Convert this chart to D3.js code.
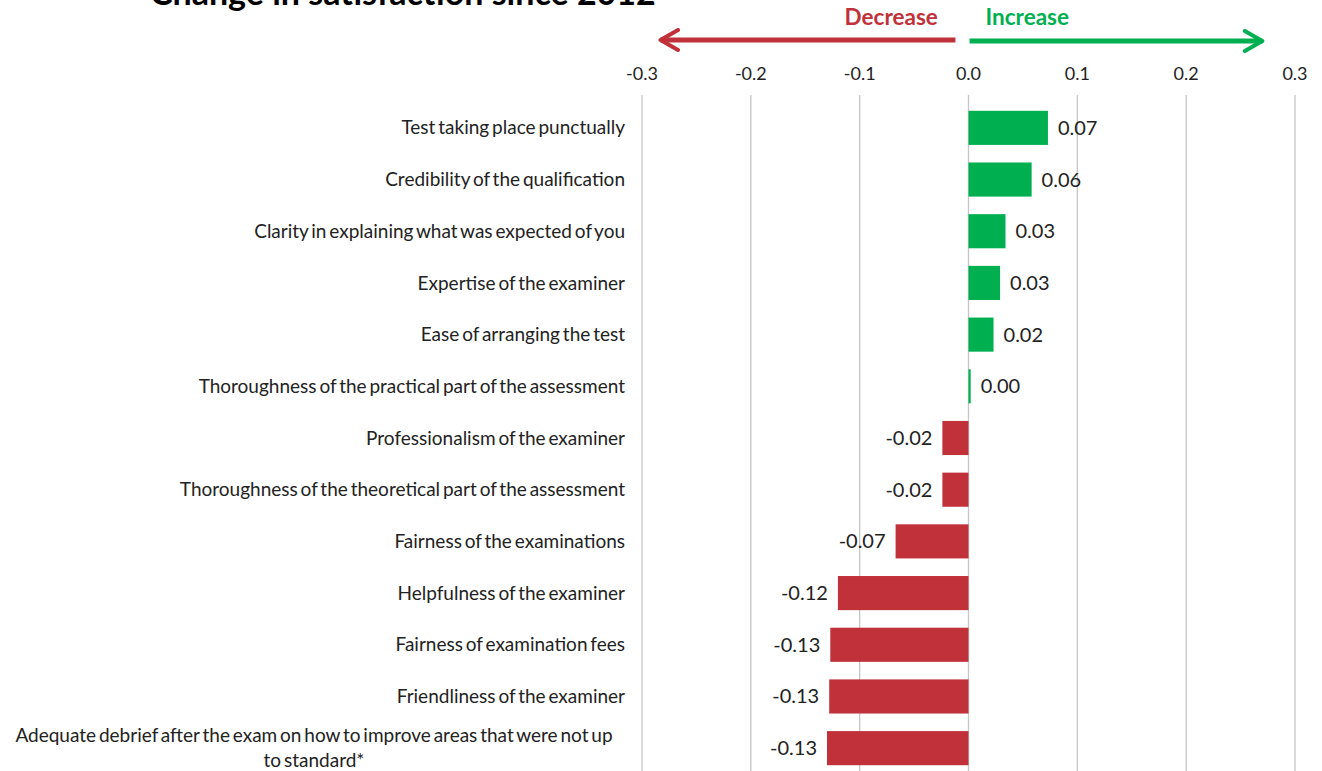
<!DOCTYPE html>
<html>
<head>
<meta charset="utf-8">
<script src="https://cdn.jsdelivr.net/npm/d3@7"></script>
<style>
  body { margin: 0; background: #fff; }
  svg text { font-family: "Liberation Sans Narrow", Lato, "Noto Sans", sans-serif; }
</style>
</head>
<body>
<svg></svg>
<script>
// chart data
var categories = [
  "Test taking place punctually",
  "Credibility of the qualification",
  "Clarity in explaining what was expected of you",
  "Expertise of the examiner",
  "Ease of arranging the test",
  "Thoroughness of the practical part of the assessment",
  "Professionalism of the examiner",
  "Thoroughness of the theoretical part of the assessment",
  "Fairness of the examinations",
  "Helpfulness of the examiner",
  "Fairness of examination fees",
  "Friendliness of the examiner",
  "Adequate debrief after the exam on how to improve areas that were not up|to standard*"
];
var values = [0.073, 0.058, 0.034, 0.029, 0.023, 0.002, -0.024, -0.024, -0.067, -0.120, -0.127, -0.128, -0.130];
var ticks = [-0.3, -0.2, -0.1, 0.0, 0.1, 0.2, 0.3];
var tickLabels = ["-0.3", "-0.2", "-0.1", "0.0", "0.1", "0.2", "0.3"];

var width = 1322, height = 771;
var green = "#00B050", red = "#C0313A";

var svg = d3.select("svg")
    .attr("width", width)
    .attr("height", height);

var x = d3.scaleLinear()
    .domain([-0.3, 0.3])
    .range([642, 1295]);

var y = d3.scaleBand()
    .domain(categories)
    .range([102, 774])
    .paddingInner(0.34)
    .paddingOuter(0.17);

// title (cut off at the top like the original)
svg.append("text")
    .attr("x", 150)
    .attr("y", 5)
    .style("font-family", "Lato, 'Open Sans', sans-serif")
    .style("font-weight", "bold")
    .style("font-size", "34px")
    .text("Change in satisfaction since 2012");

// gridlines
svg.append("g")
  .selectAll("line")
  .data(ticks)
  .enter()
  .append("line")
    .attr("x1", function(d) { return x(d); })
    .attr("x2", function(d) { return x(d); })
    .attr("y1", 95)
    .attr("y2", height)
    .attr("stroke", "#c6c6c6")
    .attr("stroke-width", 1.3);

// tick labels on top
svg.append("g")
  .selectAll("text")
  .data(ticks)
  .enter()
  .append("text")
    .attr("x", function(d) { return x(d); })
    .attr("y", 80)
    .attr("text-anchor", "middle")
    .style("font-size", "18px")
    .style("fill", "#222")
    .text(function(d, i) { return tickLabels[i]; });

// direction arrows
var defs = svg.append("defs");
[["headRed", red], ["headGreen", green]].forEach(function(m) {
  defs.append("marker")
      .attr("id", m[0])
      .attr("viewBox", "0 0 10 10")
      .attr("refX", 8).attr("refY", 5)
      .attr("markerWidth", 5).attr("markerHeight", 5)
      .attr("markerUnits", "strokeWidth")
      .attr("orient", "auto")
    .append("path")
      .attr("d", "M1,1 L8,5 L1,9")
      .attr("fill", "none")
      .attr("stroke", m[1])
      .attr("stroke-width", 1.6)
      .attr("stroke-linecap", "round")
      .attr("stroke-linejoin", "round");
});

svg.append("line")
    .attr("x1", x(-0.012)).attr("x2", x(-0.283))
    .attr("y1", 40).attr("y2", 40)
    .attr("stroke", red).attr("stroke-width", 5)
    .attr("marker-end", "url(#headRed)");
svg.append("line")
    .attr("x1", x(0.001)).attr("x2", x(0.270))
    .attr("y1", 41).attr("y2", 41)
    .attr("stroke", green).attr("stroke-width", 5)
    .attr("marker-end", "url(#headGreen)");

svg.append("text")
    .attr("x", x(-0.071)).attr("y", 25)
    .attr("text-anchor", "middle")
    .style("font-family", "Lato, 'Open Sans', sans-serif")
    .style("font-weight", "bold").style("font-size", "22.5px")
    .style("fill", red)
    .text("Decrease");
svg.append("text")
    .attr("x", x(0.054)).attr("y", 25)
    .attr("text-anchor", "middle")
    .style("font-family", "Lato, 'Open Sans', sans-serif")
    .style("font-weight", "bold").style("font-size", "22.5px")
    .style("fill", green)
    .text("Increase");

// bars
svg.append("g")
  .selectAll("rect")
  .data(values)
  .enter()
  .append("rect")
    .attr("x", function(d) { return x(Math.min(0, d)); })
    .attr("y", function(d, i) { return y(categories[i]); })
    .attr("width", function(d) { return Math.abs(x(d) - x(0)); })
    .attr("height", y.bandwidth())
    .attr("fill", function(d) { return d >= 0 ? green : red; });

// value labels
svg.append("g")
  .selectAll("text")
  .data(values)
  .enter()
  .append("text")
    .attr("x", function(d) { return d >= 0 ? x(d) + 10 : x(d) - 10; })
    .attr("y", function(d, i) { return y(categories[i]) + y.bandwidth() / 2; })
    .attr("dy", "0.35em")
    .attr("text-anchor", function(d) { return d >= 0 ? "start" : "end"; })
    .style("font-size", "20px")
    .style("fill", "#222")
    .text(function(d) { return d.toFixed(2); });

// category labels
var labelRight = 625;
svg.append("g")
  .selectAll("text")
  .data(categories)
  .enter()
  .append("text")
    .attr("y", function(d) { return y(d) + y.bandwidth() / 2; })
    .style("font-size", "19px")
    .style("word-spacing", "-2px")
    .style("fill", "#222")
    .each(function(d) {
      var lines = d.split("|");
      var t = d3.select(this);
      if (lines.length === 1) {
        t.attr("x", labelRight).attr("text-anchor", "end").attr("dy", "0.35em").text(d);
      } else {
        t.attr("text-anchor", "middle");
        lines.forEach(function(l, k) {
          t.append("tspan")
            .attr("x", 314)
            .attr("dy", k === 0 ? "-0.3em" : "1.3em")
            .text(l);
        });
      }
    });
</script>
</body>
</html>
